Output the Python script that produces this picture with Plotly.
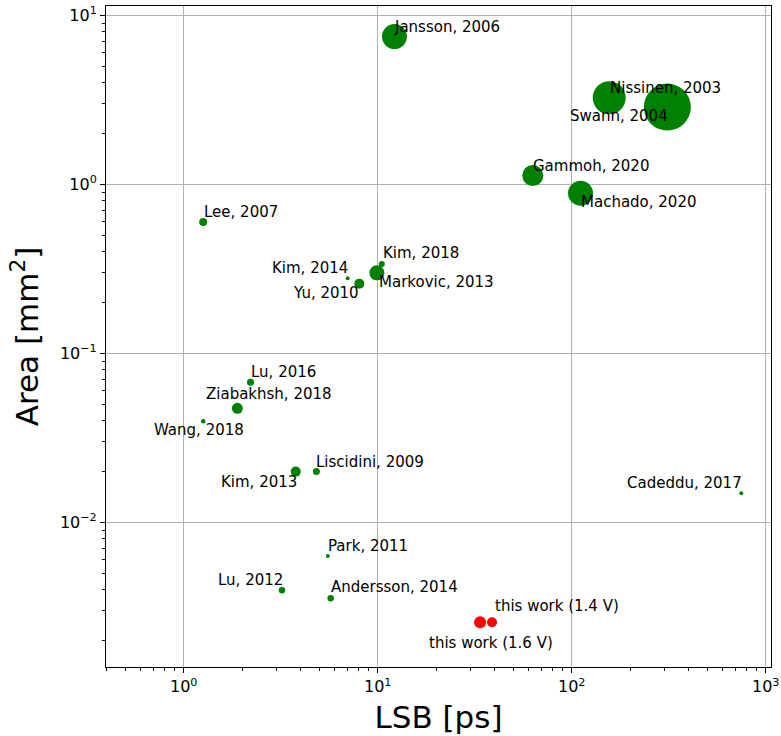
import numpy as np
import plotly.graph_objects as go

# ---- data ----
labels = ["Jansson, 2006", "Nissinen, 2003", "Swann, 2004", "Gammoh, 2020", "Machado, 2020",
          "Lee, 2007", "Kim, 2018", "Markovic, 2013", "Kim, 2014", "Yu, 2010",
          "Lu, 2016", "Ziabakhsh, 2018", "Wang, 2018", "Liscidini, 2009", "Kim, 2013",
          "Cadeddu, 2017", "Park, 2011", "Lu, 2012", "Andersson, 2014"]
lsb_ps = [12.2, 156, 311, 63, 111,
          1.26, 10.5, 9.9, 7.0, 8.04,
          2.21, 1.89, 1.26, 4.83, 3.78,
          748, 5.53, 3.21, 5.72]
area_mm2 = [7.5, 3.26, 2.87, 1.13, 0.887,
            0.6, 0.339, 0.30, 0.279, 0.259,
            0.0675, 0.0474, 0.0397, 0.020, 0.020,
            0.0149, 0.00633, 0.00397, 0.00356]
bubble = [25, 33, 47, 21, 25,
          8, 6, 15, 4, 10,
          7, 11, 4.5, 7, 10,
          4, 4, 6.5, 6.5]

work_labels = ["this work (1.6 V)", "this work (1.4 V)"]
work_lsb_ps = [33.7, 38.8]
work_area_mm2 = [0.00257, 0.00257]
work_bubble = [12, 10]

x_tick_vals = [1, 10, 100, 1000]
x_tick_text = ["10<sup>0</sup>", "10<sup>1</sup>", "10<sup>2</sup>", "10<sup>3</sup>"]
y_tick_vals = [0.01, 0.1, 1, 10]
y_tick_text = ["10<sup>\u22122</sup>", "10<sup>\u22121</sup>", "10<sup>0</sup>", "10<sup>1</sup>"]

# label placement styles: (xanchor, xshift px, yshift px)
label_style = [("left", -2, 10), ("left", -1, 10), ("right", 3, -8.7), ("left", -2, 10), ("left", -2, -8.7),
               ("left", -1, 10), ("left", -1, 10.5), ("left", 0, -8.7), ("right", 2, 10.3), ("right", 2, -9),
               ("left", -2, 10.5), ("left", -33, 14), ("center", -4, -8.7), ("left", -2, 10), ("right", 3, -10),
               ("right", 3, 10.6), ("left", -2, 10.3), ("right", 3, 10.3), ("left", -2, 11)]
work_label_style = [("center", 11, -21), ("left", 1, 16.3)]

FONT = "DejaVu Sans"

fig = go.Figure()
fig.add_trace(go.Scatter(x=lsb_ps, y=area_mm2, mode="markers",
                         marker=dict(color="green", size=bubble, opacity=1, line=dict(width=0)),
                         showlegend=False))
fig.add_trace(go.Scatter(x=work_lsb_ps, y=work_area_mm2, mode="markers",
                         marker=dict(color="red", size=work_bubble, opacity=1, line=dict(width=0)),
                         showlegend=False))

anns = []
for lab, xv, yv, (xa, xs, ys) in zip(labels + work_labels, lsb_ps + work_lsb_ps,
                                      area_mm2 + work_area_mm2, label_style + work_label_style):
    anns.append(dict(x=np.log10(xv), y=np.log10(yv), xref="x", yref="y", text=lab,
                     showarrow=False, xanchor=xa, yanchor="middle", xshift=xs, yshift=ys,
                     font=dict(family=FONT, size=15, color="black")))

minor_x = [k * 10.0 ** d for d in range(-1, 4) for k in range(2, 10) if 0.39 < k * 10.0 ** d < 1070]
minor_y = [k * 10.0 ** d for d in range(-3, 2) for k in range(2, 10) if 0.0014 < k * 10.0 ** d < 11.4]

axis_common = dict(type="log", showline=True, linecolor="black", linewidth=1.1, mirror=True,
                   showgrid=True, gridcolor="#b0b0b0", gridwidth=1.4, automargin=False,
                   ticks="outside", ticklen=5, tickwidth=1.1, tickcolor="black",
                   tickfont=dict(family=FONT, size=16, color="black"), zeroline=False)

fig.update_xaxes(**axis_common, range=[-0.4005, 3.027], tickmode="array",
                 tickvals=x_tick_vals, ticktext=x_tick_text,
                 minor=dict(tickmode="array", tickvals=minor_x, ticks="outside", ticklen=3,
                            tickwidth=0.8, tickcolor="black", showgrid=False),
                 title=dict(text="LSB [ps]", font=dict(family=FONT, size=31, color="black"), standoff=11))
fig.update_yaxes(**axis_common, range=[-2.855, 1.056], tickmode="array",
                 tickvals=y_tick_vals, ticktext=y_tick_text,
                 minor=dict(tickmode="array", tickvals=minor_y, ticks="outside", ticklen=3,
                            tickwidth=0.8, tickcolor="black", showgrid=False),
                 title=dict(text="Area [mm<sup>2</sup>]", font=dict(family=FONT, size=31, color="black"),
                            standoff=12))

fig.update_layout(width=781, height=736, margin=dict(l=106, r=10, t=6, b=69),
                  paper_bgcolor="white", plot_bgcolor="white", annotations=anns,
                  font=dict(family=FONT))

fig.write_html("out.html", config={"displayModeBar": False},
               post_script="document.body.style.margin='0';")
